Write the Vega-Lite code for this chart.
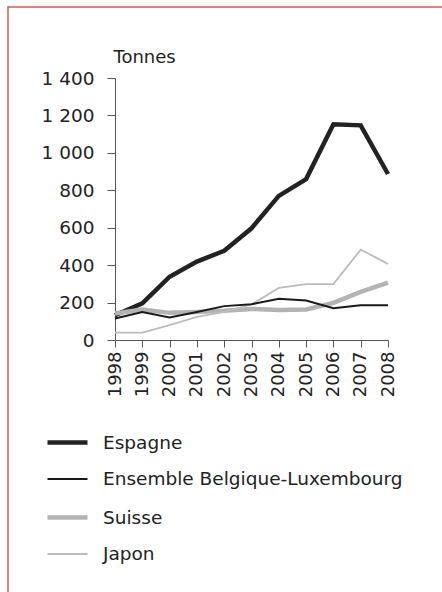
{
  "$schema": "https://vega.github.io/schema/vega-lite/v6.json",
  "width": 434,
  "height": 585,
  "autosize": "none",
  "padding": {"left": 8, "top": 7, "right": 0, "bottom": 0},
  "background": "white",
  "config": {
    "font": "DejaVu Sans",
    "view": {"stroke": "#d45b5b", "strokeWidth": 1.5, "strokeDash": [434, 1019, 585]},
    "axis": {"labelFont": "DejaVu Sans", "titleFont": "DejaVu Sans", "labelColor": "#222222", "titleColor": "#222222", "domainColor": "#555555", "tickColor": "#555555", "grid": false},
    "legend": {"labelFont": "DejaVu Sans"}
  },
  "data": {
    "values": [
      {"year": 1998, "series": "Espagne", "value": 132},
      {"year": 1999, "series": "Espagne", "value": 196},
      {"year": 2000, "series": "Espagne", "value": 338},
      {"year": 2001, "series": "Espagne", "value": 419},
      {"year": 2002, "series": "Espagne", "value": 477},
      {"year": 2003, "series": "Espagne", "value": 597},
      {"year": 2004, "series": "Espagne", "value": 770},
      {"year": 2005, "series": "Espagne", "value": 860},
      {"year": 2006, "series": "Espagne", "value": 1153},
      {"year": 2007, "series": "Espagne", "value": 1147},
      {"year": 2008, "series": "Espagne", "value": 887},
      {"year": 1998, "series": "Suisse", "value": 142},
      {"year": 1999, "series": "Suisse", "value": 163},
      {"year": 2000, "series": "Suisse", "value": 145},
      {"year": 2001, "series": "Suisse", "value": 150},
      {"year": 2002, "series": "Suisse", "value": 156},
      {"year": 2003, "series": "Suisse", "value": 166},
      {"year": 2004, "series": "Suisse", "value": 160},
      {"year": 2005, "series": "Suisse", "value": 163},
      {"year": 2006, "series": "Suisse", "value": 198},
      {"year": 2007, "series": "Suisse", "value": 257},
      {"year": 2008, "series": "Suisse", "value": 307},
      {"year": 1998, "series": "Japon", "value": 39},
      {"year": 1999, "series": "Japon", "value": 39},
      {"year": 2000, "series": "Japon", "value": 80},
      {"year": 2001, "series": "Japon", "value": 124},
      {"year": 2002, "series": "Japon", "value": 150},
      {"year": 2003, "series": "Japon", "value": 190},
      {"year": 2004, "series": "Japon", "value": 278},
      {"year": 2005, "series": "Japon", "value": 299},
      {"year": 2006, "series": "Japon", "value": 299},
      {"year": 2007, "series": "Japon", "value": 483},
      {"year": 2008, "series": "Japon", "value": 407},
      {"year": 1998, "series": "Ensemble Belgique-Luxembourg", "value": 115},
      {"year": 1999, "series": "Ensemble Belgique-Luxembourg", "value": 150},
      {"year": 2000, "series": "Ensemble Belgique-Luxembourg", "value": 120},
      {"year": 2001, "series": "Ensemble Belgique-Luxembourg", "value": 150},
      {"year": 2002, "series": "Ensemble Belgique-Luxembourg", "value": 181},
      {"year": 2003, "series": "Ensemble Belgique-Luxembourg", "value": 191},
      {"year": 2004, "series": "Ensemble Belgique-Luxembourg", "value": 220},
      {"year": 2005, "series": "Ensemble Belgique-Luxembourg", "value": 211},
      {"year": 2006, "series": "Ensemble Belgique-Luxembourg", "value": 170},
      {"year": 2007, "series": "Ensemble Belgique-Luxembourg", "value": 186},
      {"year": 2008, "series": "Ensemble Belgique-Luxembourg", "value": 186}
    ]
  },
  "mark": {"type": "line", "strokeJoin": "miter"},
  "encoding": {
    "x": {
      "field": "year", "type": "quantitative",
      "scale": {"domain": [1998, 2008], "range": [107, 380], "nice": false, "zero": false},
      "axis": {"title": null, "values": [1998, 1999, 2000, 2001, 2002, 2003, 2004, 2005, 2006, 2007, 2008], "format": "d", "labelAngle": -90, "labelFontSize": 18, "tickSize": 7, "labelPadding": 4, "offset": -252, "labelFlush": false, "labelOverlap": false}
    },
    "y": {
      "field": "value", "type": "quantitative",
      "scale": {"domain": [0, 1400], "range": [333, 71], "nice": false},
      "axis": {"title": "Tonnes", "titleAngle": 0, "titleAlign": "left", "titleBaseline": "alphabetic", "titleX": -2, "titleY": 55, "titleFontSize": 18, "titleFontWeight": "normal", "values": [0, 200, 400, 600, 800, 1000, 1200, 1400], "labelExpr": "replace(format(datum.value, ',d'), ',', ' ')", "labelFontSize": 18.5, "tickSize": 8, "labelPadding": 13, "offset": -107, "labelFlush": false}
    },
    "color": {
      "field": "series", "type": "nominal",
      "scale": {"domain": ["Espagne", "Ensemble Belgique-Luxembourg", "Suisse", "Japon"], "range": ["#222222", "#1a1a1a", "#b3b3b3", "#bcbcbc"]},
      "legend": {"title": null, "orient": "none", "legendX": 37, "legendY": 413, "padding": 0, "symbolType": "stroke", "symbolSize": 1600, "labelFontSize": 18.5, "labelColor": "#222222", "labelOffset": 13, "rowPadding": 6, "labelLimit": 400}
    },
    "strokeWidth": {
      "field": "series", "type": "nominal",
      "scale": {"type": "ordinal", "domain": ["Espagne", "Ensemble Belgique-Luxembourg", "Suisse", "Japon"], "range": [4.5, 2, 4.5, 1.8]},
      "legend": {"title": null, "orient": "none", "legendX": 37, "legendY": 413, "padding": 0, "symbolType": "stroke", "symbolSize": 1600, "labelFontSize": 18.5, "labelColor": "#222222", "labelOffset": 13, "rowPadding": 6, "labelLimit": 400}
    }
  }
}
